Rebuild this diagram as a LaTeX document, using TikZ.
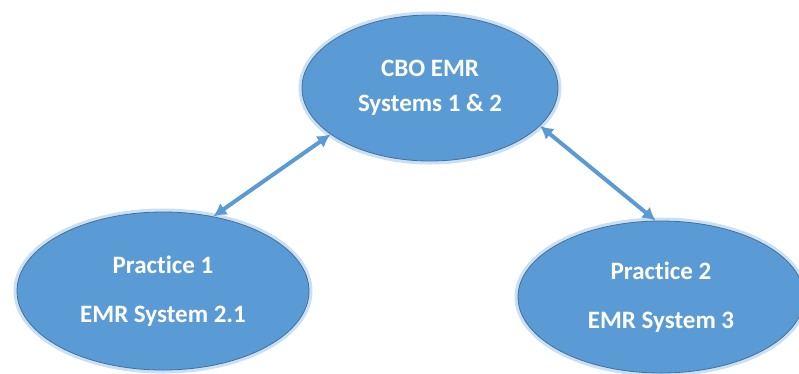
\documentclass[tikz,border=0pt]{standalone}
\usepackage{fontspec}
\setmainfont{Carlito}[Ligatures=NoCommon]
\usetikzlibrary{shapes.geometric,arrows.meta}
\definecolor{emrfill}{HTML}{5B9BD5}
\definecolor{emredge}{HTML}{41719C}
\definecolor{emrglow}{HTML}{BDD7EE}
\tikzset{
  emrnode/.style={ellipse, fill=emrfill, draw=emredge, line width=0.8pt,
    inner sep=0pt, align=center, text=white, font=\bfseries\fontsize{25}{30}\selectfont,
    preaction={draw=emrglow, line width=7pt, opacity=0.8}},
  emrlink/.style={draw=emrfill, line width=4pt, {Latex[length=13pt,width=14pt]}-{Latex[length=13pt,width=14pt]}}
}
\begin{document}
\begin{tikzpicture}[x=1pt,y=1pt]
\useasboundingbox (0,0) rectangle (799,-373);
% the three systems
\node[emrnode, minimum width=256pt, minimum height=146pt] (cbo) at (430,-88)
  {CBO EMR\\[5pt]Systems 1 \& 2};
\node[emrnode, minimum width=292pt, minimum height=158pt] (prac1) at (163,-291)
  {Practice 1\\[19pt]EMR System 2.1};
\node[emrnode, minimum width=286pt, minimum height=152pt] (prac2) at (661,-297)
  {Practice 2\\[19pt]EMR System 3};
% links
\draw[emrlink] (prac1.56) -- (cbo.205);
\draw[emrlink] (cbo.341) -- (prac2.94);
\end{tikzpicture}
\end{document}
